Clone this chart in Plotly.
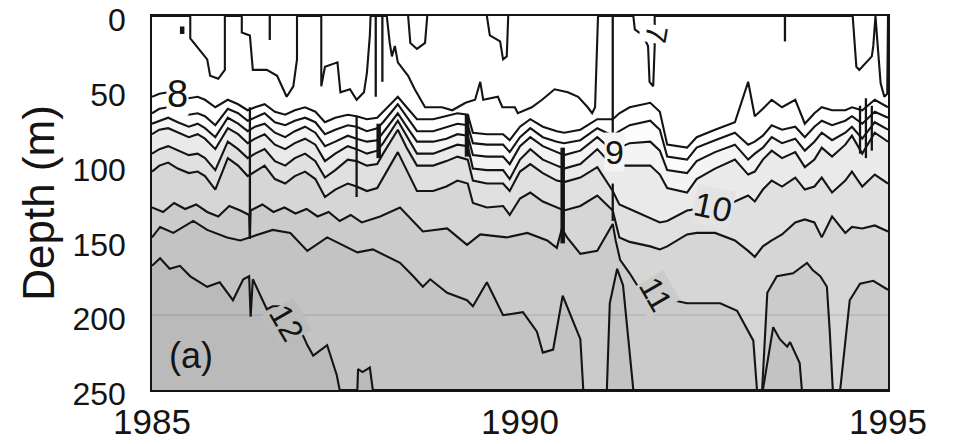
import plotly.graph_objects as go

# ---------------- data ----------------
depth_max = 250
x_ticks = [1985, 1990, 1995]
y_ticks = [0, 50, 100, 150, 200, 250]

# common time grid for the upper thermocline isotherms
T = [1985.00, 1985.10, 1985.22, 1985.35, 1985.50, 1985.62, 1985.72, 1985.86,
     1986.03, 1986.17, 1986.30, 1986.40, 1986.53, 1986.67, 1986.81, 1986.94,
     1987.08, 1987.22, 1987.35, 1987.49, 1987.66, 1987.78, 1987.92,
     1988.06, 1988.14, 1988.34, 1988.46, 1988.60, 1988.82,
     1989.00, 1989.15, 1989.29, 1989.36, 1989.55, 1989.77, 1989.86,
     1990.00, 1990.14, 1990.31, 1990.50, 1990.60, 1990.82,
     1991.05, 1991.26, 1991.35, 1991.49, 1991.77, 1991.90,
     1992.00, 1992.27, 1992.40, 1992.65, 1992.92,
     1993.10, 1993.19, 1993.30, 1993.42, 1993.56, 1993.74, 1993.87,
     1994.00, 1994.10, 1994.24, 1994.42, 1994.51, 1994.65, 1994.82, 1995.00]

iso_8 = [54, 52, 51, 53, 55, 54, 56, 61,
         56, 59, 63, 61, 59, 64, 66, 63,
         61, 64, 71, 68, 66, 67, 69,
         68, 64, 54, 61, 69, 69,
         67, 65, 66, 78, 79, 79, 83,
         74, 69, 74, 77, 78, 76,
         69, 69, 65, 61, 58, 64,
         86, 88, 81, 76, 71,
         44, 67, 62, 56, 61, 56, 72,
         65, 61, 63, 63, 61, 63, 56, 61]

iso_8_5 = [65, 62, 61, 64, 66, 65, 67, 73,
           62, 65, 70, 68, 65, 71, 73, 70,
           68, 71, 79, 76, 73, 74, 77,
           75, 71, 59, 67, 77, 77,
           74, 72, 73, 85, 86, 86, 91,
           81, 75, 81, 84, 85, 83,
           75, 80, 77, 73, 70, 76,
           94, 96, 88, 83, 78,
           86, 84, 80, 73, 76, 74, 81,
           74, 70, 73, 70, 67, 72, 64, 68]

iso_9 = [72, 70, 68, 71, 74, 72, 75, 81,
         68, 72, 77, 74, 72, 78, 81, 77,
         74, 78, 87, 84, 80, 82, 84,
         83, 78, 65, 74, 84, 84,
         82, 79, 80, 93, 94, 94, 99,
         87, 81, 87, 91, 93, 90,
         81, 90, 88, 85, 84, 90,
         103, 105, 97, 91, 86,
         96, 92, 88, 81, 85, 82, 90,
         84, 78, 83, 78, 74, 82, 71, 76]

iso_9_5 = [79, 76, 75, 78, 81, 79, 82, 89,
           75, 79, 85, 82, 79, 86, 89, 85,
           82, 86, 97, 92, 87, 89, 92,
           90, 85, 70, 80, 92, 92,
           89, 86, 87, 102, 103, 103, 109,
           96, 89, 96, 100, 102, 99,
           89, 100, 100, 100, 100, 106,
           115, 118, 109, 102, 96,
           106, 104, 96, 90, 95, 91, 101,
           96, 88, 94, 86, 80, 92, 78, 84]

iso_10 = [92, 89, 87, 90, 93, 92, 95, 103,
          84, 89, 95, 92, 89, 97, 100, 95,
          92, 97, 108, 103, 96, 97, 100,
          99, 92, 76, 88, 100, 100,
          97, 94, 96, 110, 112, 112, 117,
          104, 99, 105, 110, 111, 108,
          101, 117, 126, 129, 135, 138,
          137, 130, 129, 128, 124,
          120, 124, 116, 110, 114, 108, 116,
          114, 108, 118, 110, 104, 114, 106, 112]

iso_10_5 = [104, 100, 98, 102, 105, 104, 107, 116,
            95, 100, 107, 104, 100, 109, 112, 107,
            104, 109, 121, 116, 112, 114, 117,
            115, 108, 91, 103, 117, 117,
            114, 110, 112, 125, 128, 127, 133,
            122, 118, 124, 128, 130, 127,
            120, 130, 148, 151, 154, 156,
            154, 146, 145, 145, 150,
            157, 161, 154, 150, 146, 138, 136,
            138, 148, 134, 145, 141, 142, 140, 144]

# 11 degree isotherm
iso_11_year = [1985.00, 1985.15, 1985.30, 1985.45, 1985.60, 1985.75, 1985.90, 1986.05,
               1986.20, 1986.32, 1986.33, 1986.34, 1986.50, 1986.65, 1986.80, 1986.95,
               1987.10, 1987.25, 1987.40, 1987.55, 1987.70, 1987.85, 1988.10, 1988.37,
               1988.68, 1989.01, 1989.28, 1989.46, 1989.82, 1990.10, 1990.37, 1990.50,
               1990.57, 1990.64, 1990.82, 1991.05, 1991.26, 1991.30, 1991.36, 1991.49,
               1991.63, 1991.94, 1992.08, 1992.27, 1992.72, 1992.95, 1993.17, 1993.22,
               1993.29, 1993.36, 1993.49, 1993.71, 1993.90, 1993.98, 1994.08, 1994.17,
               1994.21, 1994.25, 1994.35, 1994.48, 1994.62, 1994.80, 1995.00]
iso_11 = [128, 131, 125, 129, 126, 131, 134, 127,
          130, 133, 148, 130, 126, 131, 128, 132,
          129, 134, 131, 137, 133, 138, 134, 128,
          144, 142, 153, 146, 148, 145, 150, 155,
          142, 148, 159, 157, 139, 150, 163, 172,
          183, 189, 190, 192, 192, 197, 217, 250,
          250, 185, 174, 172, 165, 170, 174, 181,
          212, 250, 250, 190, 179, 177, 183]

# 11.5 degree isotherm
iso_11_5_year = [1985.00, 1985.11, 1985.29, 1985.56, 1985.75, 1986.02, 1986.20, 1986.64,
                 1986.88, 1987.11, 1987.38, 1987.55, 1987.79, 1988.00, 1988.37, 1988.55,
                 1988.68, 1988.78, 1989.01, 1989.28, 1989.36, 1989.55, 1989.77, 1990.04,
                 1990.23, 1990.31, 1990.45, 1990.58, 1990.82, 1990.86, 1991.18, 1991.22,
                 1991.32, 1991.40, 1991.54, 1993.30, 1993.44, 1993.53, 1993.63, 1993.67,
                 1993.80, 1993.83, 1995.00]
iso_11_5 = [148, 141, 145, 137, 143, 148, 150, 143,
            145, 157, 148, 152, 158, 156, 165, 174,
            181, 176, 185, 190, 194, 178, 200, 198,
            211, 225, 223, 187, 216, 250, 250, 192,
            169, 180, 250, 250, 208, 216, 221, 218,
            232, 250, 250]

# 12 degree isotherm
iso_12_year = [1985.00, 1985.11, 1985.24, 1985.38, 1985.52, 1985.75, 1985.92,
               1986.10, 1986.24, 1986.32, 1986.34, 1986.37, 1986.56, 1986.64, 1986.77,
               1987.01, 1987.11, 1987.19, 1987.38, 1987.51, 1987.55, 1987.79, 1987.80,
               1987.86, 1987.96, 1988.00, 1995.00]
iso_12 = [167, 162, 169, 167, 174, 181, 178,
          190, 176, 174, 201, 176, 196, 194, 194,
          209, 220, 227, 220, 240, 250, 250, 236,
          238, 235, 250, 250]

# near-surface (7 degree) contour, hanging from the surface
iso_7_year = [1985.00, 1985.52, 1985.52, 1985.75, 1985.79, 1985.90, 1985.99, 1985.99,
              1986.22, 1986.22, 1986.33, 1986.37, 1986.56, 1986.70, 1986.83, 1986.92, 1986.97, 1986.97,
              1987.30, 1987.30, 1987.35, 1987.52, 1987.56, 1987.69, 1987.78, 1987.88, 1987.92, 1987.96, 1987.97,
              1988.19, 1988.23, 1988.26, 1988.30, 1988.34, 1988.48, 1988.57, 1988.71, 1988.94,
              1989.08, 1989.26, 1989.39, 1989.46, 1989.50, 1989.70, 1989.76, 1989.93, 1989.97,
              1990.16, 1990.30, 1990.47, 1990.65, 1990.79, 1990.92, 1990.98, 1991.02, 1991.06,
              1991.54, 1991.56, 1991.67, 1991.74, 1991.76, 1991.81, 1991.83, 1991.83,
              1994.52, 1994.57, 1994.61, 1994.78, 1994.80, 1994.83, 1994.86, 1994.90, 1994.95, 1994.99, 1995.00]
iso_7 = [0, 0, 15, 29, 40, 42, 36, 0,
         0, 11, 13, 36, 36, 40, 54, 47, 29, 0,
         0, 47, 34, 31, 51, 49, 56, 51, 38, 13, 0,
         0, 18, 27, 20, 31, 40, 49, 61, 61,
         63, 58, 56, 44, 56, 54, 61, 61, 65,
         61, 56, 49, 51, 54, 61, 65, 61, 0,
         0, 9, 13, 20, 44, 47, 20, 0,
         0, 34, 36, 27, 20, 0, 20, 45, 54, 52, 0]

# small surface tongues
tongue_year = [1988.48, 1988.51, 1988.60, 1988.71, 1988.74, None,
               1989.55, 1989.59, 1989.73, 1989.77, 1989.82, 1989.84]
tongue_depth = [0, 18, 22, 18, 0, None,
                0, 13, 17, 29, 27, 0]

# narrow vertical spikes in the record (year, top depth, bottom depth)
spike_year = [1985.41, 1986.60, 1988.04, 1988.13, 1986.33, 1987.78, 1988.08,
              1989.28, 1990.58, 1991.26, 1991.26, 1993.60, 1994.62, 1994.70, 1994.78]
spike_top = [7, 0, 0, 0, 61, 67, 72, 66, 88, 0, 112, 0, 60, 55, 60]
spike_bot = [12, 16, 54, 44, 149, 121, 95, 94, 152, 90, 137, 17, 92, 95, 90]

# contour labels
label_text = ["8", "9", "10", "11", "12", "7"]
label_year = [1985.35, 1991.29, 1992.62, 1991.84, 1986.83, 1991.85]
label_depth = [52, 91, 128, 186, 205, 12]

panel_label = "(a)"
panel_year = 1985.53
panel_depth = 227

# ---------------- styling ----------------
LINE = "#141414"
LW = 2.1
fill_order = [  # deepest first, fill colour is for the region below each line
    (iso_12_year, iso_12, "#bababa"),
    (iso_11_5_year, iso_11_5, "#c3c3c3"),
    (iso_11_year, iso_11, "#cbcbcb"),
    (T, iso_10_5, "#d6d6d6"),
    (T, iso_10, "#e0e0e0"),
    (T, iso_9_5, "#eaeaea"),
    (T, iso_9, "#f4f4f4"),
    (T, iso_8_5, "#fcfcfc"),
    (T, iso_8, "#ffffff"),
]
label_angle = [0, 0, 12, 60, 60, 100]
label_bg = ["#ffffff", "#f4f4f4", "#e3e3e3", "#cbcbcb", "#bcbcbc", "#ffffff"]
label_size = [38, 34, 34, 32, 32, 30]
thick_spikes = {0, 6, 7, 8}

fig = go.Figure()

# baseline at the bottom of the section
fig.add_trace(go.Scatter(x=[T[0], T[-1]], y=[depth_max, depth_max], mode="lines",
                         line=dict(width=0), hoverinfo="skip", showlegend=False))
for xs, ys, col in fill_order:
    fig.add_trace(go.Scatter(x=xs, y=ys, mode="lines", fill="tonexty", fillcolor=col,
                             line=dict(width=0), hoverinfo="skip", showlegend=False))

# contour lines
for xs, ys, _ in fill_order:
    fig.add_trace(go.Scatter(x=xs, y=ys, mode="lines", line=dict(color=LINE, width=LW),
                             hoverinfo="skip", showlegend=False))
fig.add_trace(go.Scatter(x=iso_7_year, y=iso_7, mode="lines", line=dict(color=LINE, width=LW),
                         hoverinfo="skip", showlegend=False))
fig.add_trace(go.Scatter(x=tongue_year, y=tongue_depth, mode="lines", line=dict(color=LINE, width=LW),
                         hoverinfo="skip", showlegend=False, connectgaps=False))

# spikes
for thick in (False, True):
    sx, sy = [], []
    for i, (yr, a, b) in enumerate(zip(spike_year, spike_top, spike_bot)):
        if (i in thick_spikes) != thick:
            continue
        sx += [yr, yr, None]
        sy += [a, b, None]
    fig.add_trace(go.Scatter(x=sx, y=sy, mode="lines",
                             line=dict(color=LINE, width=4.5 if thick else 2.3),
                             hoverinfo="skip", showlegend=False, connectgaps=False))

# faint horizontal line at 200 m seen in the scan
fig.add_shape(type="line", xref="paper", x0=0, x1=1, yref="y", y0=200, y1=200,
              line=dict(color="rgba(0,0,0,0.13)", width=1.2), layer="above")

for t, x, y, ang, bg, sz in zip(label_text, label_year, label_depth, label_angle, label_bg, label_size):
    fig.add_annotation(x=x, y=y, text=t, showarrow=False, textangle=ang,
                       font=dict(size=sz, color=LINE), bgcolor=bg, borderpad=0)

fig.add_annotation(x=panel_year, y=panel_depth, text=panel_label, showarrow=False,
                   font=dict(size=36, color=LINE))

fig.update_layout(
    width=953, height=444,
    margin=dict(l=152, r=65, t=16, b=54),
    plot_bgcolor="white", paper_bgcolor="white",
    showlegend=False,
    font=dict(family="Liberation Sans, Arial, Helvetica, sans-serif", color=LINE),
)
fig.update_xaxes(range=[x_ticks[0], x_ticks[-1]], tickvals=x_ticks,
                 ticktext=[str(v) for v in x_ticks],
                 showgrid=False, zeroline=False, showline=True, mirror=True,
                 linecolor=LINE, linewidth=1.5, ticks="", ticklen=0, tickfont=dict(size=35),
                 ticklabelstandoff=0, ticklabeloverflow="allow", automargin=False)
fig.update_yaxes(range=[depth_max, 0], tickvals=y_ticks,
                 ticktext=[str(v) for v in y_ticks],
                 showgrid=False, zeroline=False, showline=True, mirror=True,
                 linecolor=LINE, linewidth=1.5, ticks="", ticklen=0, tickfont=dict(size=32),
                 ticklabelstandoff=18, ticklabelshift=-4, ticklabeloverflow="allow",
                 automargin=False,
                 title=dict(text="Depth (m)", font=dict(size=44), standoff=4))

fig.write_html("out.html")
